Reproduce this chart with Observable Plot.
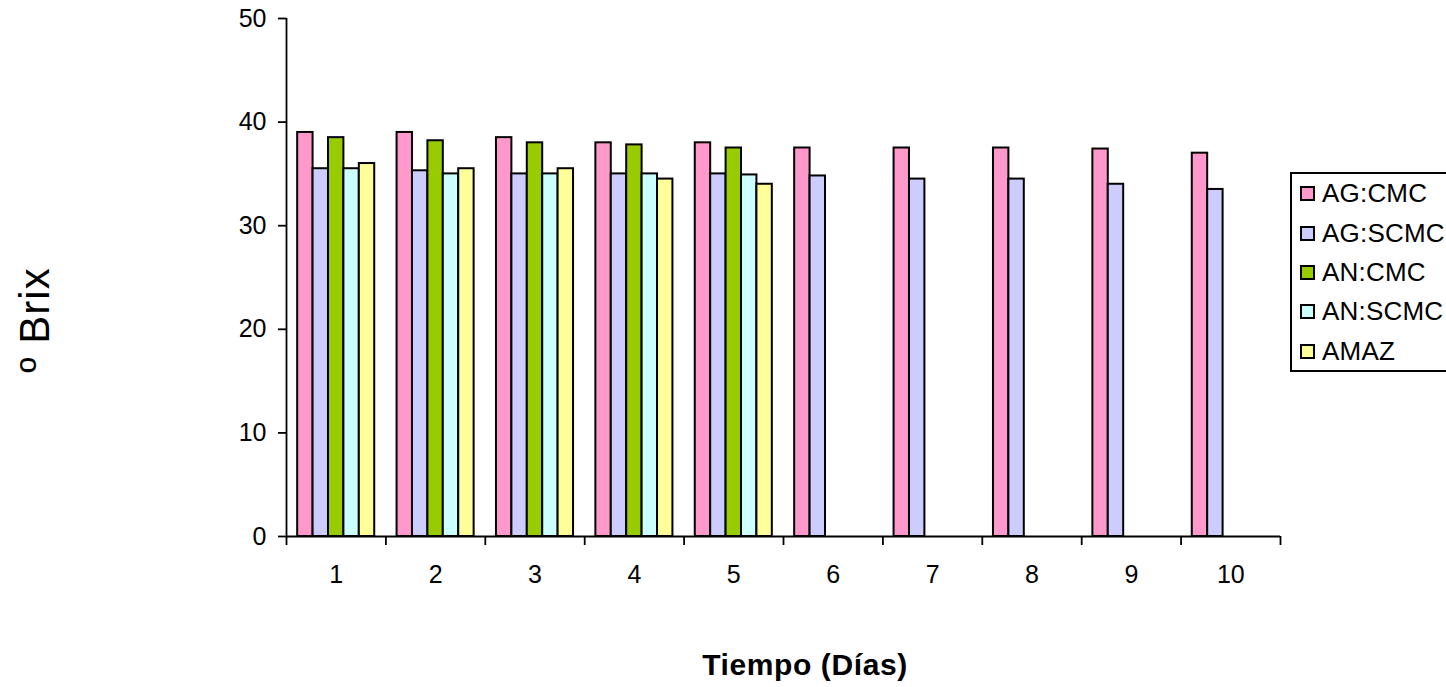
<!DOCTYPE html>
<html>
<head>
<meta charset="utf-8">
<script src="https://cdn.jsdelivr.net/npm/d3@7"></script>
<script src="https://cdn.jsdelivr.net/npm/@observablehq/plot@0.6"></script>
<style>
  html, body { margin: 0; padding: 0; background: #fff; overflow: hidden; }
  #wrap { position: relative; width: 1446px; height: 687px; font-family: "Liberation Sans", Arial, sans-serif; }
  #ylabel { position: absolute; left: 35px; top: 320px; transform: translate(-50%, -50%) rotate(-90deg); font-size: 42px; letter-spacing: 1px; white-space: nowrap; }
  #xlabel { position: absolute; left: 805px; top: 665px; transform: translate(-50%, -50%); font-size: 30px; letter-spacing: 0.6px; font-weight: bold; white-space: nowrap; }
  #legend { position: absolute; left: 1290px; top: 172px; width: 200px; height: 196px; border: 2px solid #000; background: #fff; }
  .row { height: 39.4px; display: flex; align-items: center; font-size: 26px; letter-spacing: 0.2px; padding-left: 8px; }
  .sw { width: 11px; height: 11px; border: 2px solid #000; margin-right: 7px; flex: none; }
</style>
</head>
<body>
<div id="wrap">
  <div id="chart"></div>
  <div id="ylabel">º Brix</div>
  <div id="xlabel">Tiempo (Días)</div>
  <div id="legend"></div>
</div>
<script>
// Días de almacenamiento
const days = [1, 2, 3, 4, 5, 6, 7, 8, 9, 10];
// Tratamientos
const series = ["AG:CMC", "AG:SCMC", "AN:CMC", "AN:SCMC", "AMAZ"];
const colors = ["#FF99CC", "#CCCCFF", "#99CC00", "#CCFFFF", "#FFFF99"];

// ºBrix por tratamiento y día
const agCmc  = [39.0, 39.0, 38.5, 38.0, 38.0, 37.5, 37.5, 37.5, 37.4, 37.0];
const agScmc = [35.5, 35.3, 35.0, 35.0, 35.0, 34.8, 34.5, 34.5, 34.0, 33.5];
const anCmc  = [38.5, 38.2, 38.0, 37.8, 37.5];
const anScmc = [35.5, 35.0, 35.0, 35.0, 34.9];
const amaz   = [36.0, 35.5, 35.5, 34.5, 34.0];

const yTicks = [0, 10, 20, 30, 40, 50];

// Bars of a group share one day; the gap between groups is 145% of a bar width
const gapWidth = 1.45;
const barW = 1 / (series.length + gapWidth);

const valuesBySeries = [agCmc, agScmc, anCmc, anScmc, amaz];
const rows = [];
valuesBySeries.forEach((vals, i) => {
  vals.forEach((v, j) => {
    const start = days[j] - 0.5 + (gapWidth / 2 + i) * barW;
    rows.push({day: days[j], series: series[i], value: v, x1: start, x2: start + barW});
  });
});

const xDomain = [days[0] - 0.5, days[days.length - 1] + 0.5];
const boundaries = d3.range(xDomain[0], xDomain[1] + 0.01, 1);

const chart = Plot.plot({
  width: 1446,
  height: 687,
  marginLeft: 286,
  marginRight: 166,
  marginTop: 18,
  marginBottom: 151,
  style: {fontFamily: "'Liberation Sans', Arial, sans-serif", background: "#fff", color: "#000"},
  x: {type: "linear", domain: xDomain},
  y: {domain: [0, 50]},
  color: {domain: series, range: colors},
  marks: [
    Plot.rectY(rows, {x1: "x1", x2: "x2", y: "value", fill: "series", stroke: "#000", strokeWidth: 2}),
    Plot.ruleX([xDomain[0]], {stroke: "#000", strokeWidth: 1.8}),
    Plot.ruleY([0], {stroke: "#000", strokeWidth: 1.8}),
    Plot.axisY({ticks: yTicks, tickSize: 8, tickPadding: 12, fontSize: 25, label: null, strokeWidth: 1.8}),
    Plot.axisX({ticks: boundaries, tickSize: 9, tickFormat: () => "", label: null, strokeWidth: 1.8}),
    Plot.axisX({ticks: days, tickSize: 0, tickPadding: 29, fontSize: 25, label: null})
  ]
});
document.getElementById("chart").appendChild(chart);

// Leyenda
const legend = d3.select("#legend");
series.forEach((s, i) => {
  const row = legend.append("div").attr("class", "row");
  row.append("div").attr("class", "sw").style("background", colors[i]);
  row.append("span").text(s);
});
</script>
</body>
</html>
